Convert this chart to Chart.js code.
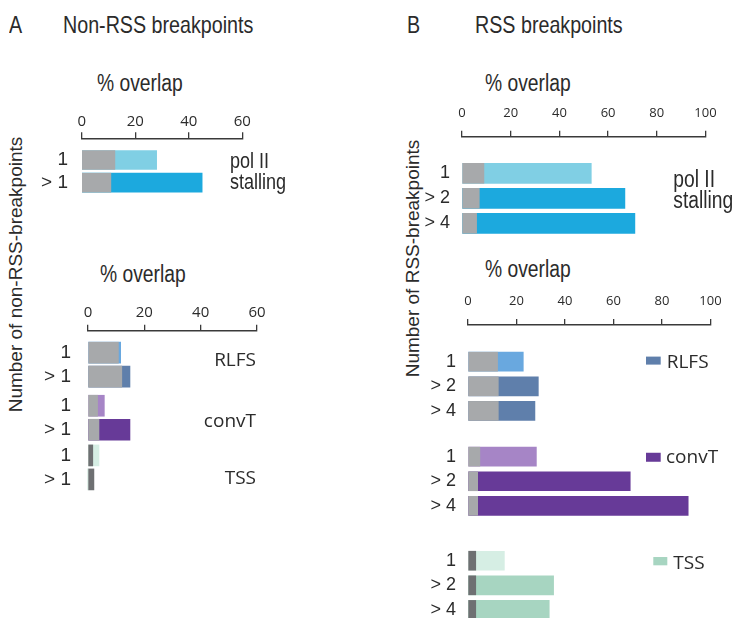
<!DOCTYPE html>
<html>
<head>
<meta charset="utf-8">
<script src="https://cdn.jsdelivr.net/npm/chart.js@4.4.1/dist/chart.umd.min.js"></script>
<style>
  html, body { margin: 0; padding: 0; background: #fff; }
  #fig { position: relative; width: 735px; height: 618px; overflow: hidden; background: #fff; color: #2b2b2b; }
  #fig canvas { position: absolute; }
  .t { position: absolute; white-space: nowrap; line-height: 1; font-family: "Liberation Sans", Arial, sans-serif; }
  .cond { transform: scaleX(0.82); transform-origin: 0 0; }
  .vt { position: absolute; white-space: nowrap; line-height: 1; text-align: center; transform: rotate(-90deg);
        font-family: "Liberation Sans", Arial, sans-serif; }
</style>
</head>
<body>
<div id="fig">
  <div class="t cond" style="left:9px;top:13px;font-size:24px">A</div>
  <div class="t cond" style="left:63px;top:13px;font-size:24px">Non-RSS breakpoints</div>
  <div class="t cond" style="left:407px;top:13px;font-size:24px">B</div>
  <div class="t cond" style="left:475px;top:13px;font-size:24px">RSS breakpoints</div>

  <div class="t cond" style="left:97px;top:72px;font-size:23.5px">% overlap</div>
  <div class="t cond" style="left:100px;top:263px;font-size:23.5px">% overlap</div>
  <div class="t cond" style="left:485px;top:72px;font-size:23.5px">% overlap</div>
  <div class="t cond" style="left:485px;top:258px;font-size:23.5px">% overlap</div>

  <div class="vt" style="left:-145px;top:265px;width:320px;height:19px;font-size:19px">Number of non-RSS-breakpoints</div>
  <div class="vt" style="left:252px;top:249px;width:320px;height:19px;font-size:19px">Number of RSS-breakpoints</div>
</div>

<script>
// ---------- Panel A: non-RSS breakpoints (% overlap) ----------
const nonRssRowLabels = ['1', '> 1'];
const nonRssTicks = [0, 20, 40, 60];
const nonRssPolII   = [28.0, 45.0];
const nonRssPolIIBg = [12.4, 10.9];
const nonRssRLFS    = [11.6, 14.9];
const nonRssRLFSBg  = [10.8, 12.0];
const nonRssConvT   = [5.8, 14.9];
const nonRssConvTBg = [3.4, 3.9];
const nonRssTSS     = [3.9, 0];
const nonRssTSSBg   = [1.7, 2.1];

// ---------- Panel B: RSS breakpoints (% overlap) ----------
const rssRowLabels = ['1', '> 2', '> 4'];
const rssTicks = [0, 20, 40, 60, 80, 100];
const rssPolII   = [53.1, 66.9, 71.0];
const rssPolIIBg = [9.0, 7.1, 6.0];
const rssRLFS    = [22.8, 29.0, 27.6];
const rssRLFSBg  = [12.2, 12.5, 12.5];
const rssConvT   = [28.2, 66.9, 90.8];
const rssConvTBg = [4.9, 4.0, 4.0];
const rssTSS     = [15.0, 35.3, 33.5];
const rssTSSBg   = [3.2, 3.2, 3.2];

// ---------- styling ----------
const TEXT = '#2b2b2b';
const AXIS = '#3a3a3a';
const GRAY = '#a7a9ab';
const DARK_GRAY = '#6e7072';
const REG = '"Liberation Sans", Arial, sans-serif';
const SANS = '"Open Sans", "Liberation Sans", sans-serif';
const COLORS = {
  polII: { light: '#80cfe4', dark: '#1ca9de' },
  RLFS:  { light: '#69a8df', dark: '#5f7fab' },
  convT: { light: '#a685c6', dark: '#673a98' },
  TSS:   { light: '#d6eee4', dark: '#a7d5c1' }
};

Chart.defaults.font.family = SANS;
const fig = document.getElementById('fig');

function group(key, observed, background, bgColor, label) {
  return { key, observed, background, bgColor, label };
}

function drawPanel(box, geo, groups, rowLabels, ticks) {
  const canvas = document.createElement('canvas');
  canvas.width = box.w; canvas.height = box.h;
  canvas.style.left = box.x + 'px'; canvas.style.top = box.y + 'px';
  canvas.style.width = box.w + 'px'; canvas.style.height = box.h + 'px';
  fig.appendChild(canvas);

  const rowPos = [], labels = [], obsPts = [], bgPts = [], obsCol = [], bgCol = [], groupRows = [];
  let k = 0;
  groups.forEach((g, gi) => {
    const rows = [];
    g.observed.forEach((v, i) => {
      const y = k + geo.groupShift[gi];
      rows.push(y);
      rowPos.push(y);
      labels.push(rowLabels[i]);
      obsPts.push({ x: v, y });
      bgPts.push({ x: g.background[i], y });
      obsCol.push(i === 0 ? COLORS[g.key].light : COLORS[g.key].dark);
      bgCol.push(g.bgColor);
      k++;
    });
    groupRows.push(rows);
  });

  const xMax = ticks[ticks.length - 1];

  // once the plot area is known, fix the row axis so rows sit geo.step px apart
  const rowPlacement = {
    id: 'rowPlacement',
    afterLayout(chart) {
      const ys = chart.scales.y;
      const a = chart.chartArea;
      const min = -((geo.row0 - box.y) - a.top) / geo.step;
      ys.min = min;
      ys.max = min + (a.bottom - a.top) / geo.step;
      ys.configure();
      ys._labelItems = null;
    }
  };

  const labelPlugin = {
    id: 'groupLabels',
    afterDraw(chart) {
      const { ctx } = chart;
      const ys = chart.scales.y;
      ctx.save();
      groups.forEach((g, gi) => {
        const L = g.label;
        const rows = groupRows[gi];
        const cy = (ys.getPixelForValue(rows[0]) + ys.getPixelForValue(rows[rows.length - 1])) / 2;
        const x = L.x - box.x;
        const base = cy + L.dy;
        if (L.swatch) {
          ctx.fillStyle = COLORS[g.key].dark;
          ctx.fillRect(L.swatch.x - box.x, base + L.swatch.dy, L.swatch.w, L.swatch.h);
        }
        ctx.font = L.font;
        ctx.fillStyle = TEXT;
        ctx.textBaseline = 'alphabetic';
        ctx.textAlign = L.align;
        L.lines.forEach((line, li) => {
          ctx.save();
          ctx.translate(x, base + li * (L.gap || 0));
          ctx.scale(L.sx || 1, 1);
          ctx.fillText(line, 0, 0);
          ctx.restore();
        });
      });
      ctx.restore();
    }
  };

  new Chart(canvas, {
    type: 'bar',
    data: {
      datasets: [
        { label: 'background', data: bgPts, backgroundColor: bgCol, grouped: false, barThickness: geo.bar, clip: false },
        { label: 'observed', data: obsPts, backgroundColor: obsCol, grouped: false, barThickness: geo.bar, clip: false }
      ]
    },
    options: {
      indexAxis: 'y',
      responsive: false,
      maintainAspectRatio: false,
      animation: false,
      layout: { padding: { left: 0, top: 0, bottom: 0, right: box.x + box.w - geo.xRight } },
      plugins: { legend: { display: false }, tooltip: { enabled: false } },
      scales: {
        x: {
          type: 'linear', position: 'top', min: 0, max: xMax, bounds: 'data',
          afterBuildTicks: s => { s.ticks = ticks.map(v => ({ value: v })); s.min = 0; s.max = xMax; },
          afterFit: s => { s.height = geo.axisY - box.y; },
          grid: { drawOnChartArea: false, drawTicks: true, tickLength: 6, color: AXIS, lineWidth: 1.3 },
          border: { display: true, color: AXIS, width: 1.5 },
          ticks: { font: { family: SANS, size: geo.tickFont }, color: TEXT, padding: geo.tickPad, maxRotation: 0, autoSkip: false }
        },
        y: {
          type: 'linear', reverse: true, offset: false, bounds: 'data', min: -1, max: rowPos[rowPos.length - 1] + 1,
          afterBuildTicks: s => { s.ticks = rowPos.map(v => ({ value: v })); },
          afterFit: s => { s.width = geo.xLeft - box.x; s.paddingTop = 0; s.paddingBottom = 0; },
          grid: { display: false, drawTicks: false, offset: false },
          border: { display: false },
          ticks: {
            callback: (v, i) => labels[i], autoSkip: false, includeBounds: false,
            font: { family: REG, size: geo.labelFont }, color: TEXT, padding: geo.labelPad
          }
        }
      }
    },
    plugins: [rowPlacement, labelPlugin]
  });
}

// Panel A, pol II stalling
drawPanel(
  { x: 20, y: 100, w: 280, h: 110 },
  { xLeft: 81.7, xRight: 242.3, axisY: 138.3, row0: 160, step: 22.7, bar: 19,
    tickFont: 15, tickPad: 2, labelFont: 19, labelPad: 13.7, groupShift: [0] },
  [ group('polII', nonRssPolII, nonRssPolIIBg, GRAY,
      { lines: ['pol II', 'stalling'], x: 230, dy: -3.4, gap: 21.3, align: 'left', font: '22px ' + REG, sx: 0.82 }) ],
  nonRssRowLabels, nonRssTicks
);

// Panel A, RLFS / convT / TSS
drawPanel(
  { x: 20, y: 290, w: 280, h: 210 },
  { xLeft: 88, xRight: 257, axisY: 330.7, row0: 352.7, step: 24, bar: 21,
    tickFont: 15, tickPad: 3, labelFont: 19, labelPad: 17, groupShift: [0, 0.21, 0.28] },
  [ group('RLFS', nonRssRLFS, nonRssRLFSBg, GRAY,
      { lines: ['RLFS'], x: 256, dy: 1.3, align: 'right', font: '19px ' + SANS }),
    group('convT', nonRssConvT, nonRssConvTBg, GRAY,
      { lines: ['convT'], x: 256, dy: 8.8, align: 'right', font: '19px ' + SANS }),
    group('TSS', nonRssTSS, nonRssTSSBg, DARK_GRAY,
      { lines: ['TSS'], x: 256, dy: 16.3, align: 'right', font: '19px ' + SANS }) ],
  nonRssRowLabels, nonRssTicks
);

// Panel B, pol II stalling
drawPanel(
  { x: 420, y: 95, w: 315, h: 145 },
  { xLeft: 462, xRight: 705.5, axisY: 136.7, row0: 173.3, step: 25, bar: 20,
    tickFont: 13, tickPad: 9.5, labelFont: 18, labelPad: 12, groupShift: [0] },
  [ group('polII', rssPolII, rssPolIIBg, GRAY,
      { lines: ['pol II', 'stalling'], x: 673.3, dy: -11.6, gap: 21.6, align: 'left', font: '23.5px ' + REG, sx: 0.82 }) ],
  rssRowLabels, rssTicks
);

// Panel B, RLFS / convT / TSS
drawPanel(
  { x: 420, y: 285, w: 315, h: 333 },
  { xLeft: 468, xRight: 710.5, axisY: 325, row0: 361.7, step: 24.6, bar: 19,
    tickFont: 13, tickPad: 9.5, labelFont: 18, labelPad: 12, groupShift: [0, 0.86, 2.09] },
  [ group('RLFS', rssRLFS, rssRLFSBg, GRAY,
      { lines: ['RLFS'], x: 666.7, dy: -18.4, align: 'left', font: '19px ' + SANS,
        swatch: { x: 646, dy: -11.3, w: 14.7, h: 8 } }),
    group('convT', rssConvT, rssConvTBg, GRAY,
      { lines: ['convT'], x: 666, dy: -17.9, align: 'left', font: '19px ' + SANS,
        swatch: { x: 646, dy: -10.6, w: 14.7, h: 9 } }),
    group('TSS', rssTSS, rssTSSBg, DARK_GRAY,
      { lines: ['TSS'], x: 673.3, dy: -16.7, align: 'left', font: '19px ' + SANS,
        swatch: { x: 653.3, dy: -11.6, w: 14, h: 8.3 } }) ],
  rssRowLabels, rssTicks
);
</script>
</body>
</html>
